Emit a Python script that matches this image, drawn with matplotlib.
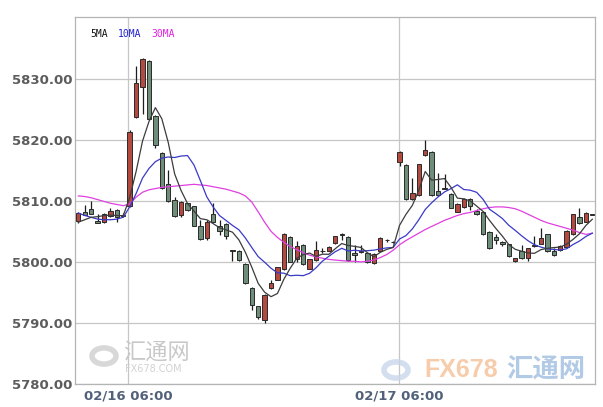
import matplotlib
matplotlib.use('Agg')
import matplotlib.pyplot as plt
from matplotlib.patches import Circle
import numpy as np

# candle data (30-min bars), index 0..80
opens = [5806.7, 5808.1, 5808.6, 5806.7, 5806.5, 5807.5, 5808.5, 5807.5, 5809.2, 5823.8,
         5828.7, 5832.9, 5823.9, 5817.9, 5812.8, 5810.2, 5807.6, 5809.6, 5809.1, 5805.8,
         5803.9, 5807.9, 5805.9, 5806.2, 5801.9, 5801.7, 5799.7, 5795.8, 5792.7, 5790.5,
         5795.7, 5797.1, 5798.8, 5804.1, 5800.5, 5802.8, 5798.9, 5800.3, 5801.7, 5801.8,
         5803.1, 5804.4, 5804.1, 5801.5, 5801.7, 5801.4, 5799.8, 5801.8, 5803.6, 5803.2,
         5816.3, 5815.9, 5810.3, 5810.9, 5817.5, 5818.0, 5811.6, 5812.1, 5811.1, 5808.2,
         5809.0, 5810.3, 5808.3, 5808.2, 5804.9, 5804.0, 5803.3, 5802.9, 5800.2, 5801.8,
         5800.6, 5802.6, 5803.0, 5804.5, 5801.8, 5801.9, 5802.4, 5804.5, 5807.4, 5806.6,
         5807.7]
highs = [5808.2, 5809.3, 5810.0, 5807.9, 5808.0, 5808.8, 5808.7, 5808.0, 5821.6, 5832.1,
         5833.4, 5833.0, 5824.0, 5818.0, 5815.1, 5810.7, 5810.0, 5809.7, 5809.2, 5806.8,
         5806.8, 5809.6, 5806.8, 5806.3, 5802.0, 5802.0, 5799.8, 5795.9, 5792.8, 5794.7,
         5797.0, 5799.2, 5804.8, 5804.2, 5803.4, 5802.9, 5800.5, 5803.4, 5802.3, 5802.6,
         5804.3, 5804.7, 5804.2, 5802.8, 5802.8, 5801.5, 5801.4, 5804.0, 5803.8, 5803.4,
         5818.1, 5816.0, 5813.7, 5816.1, 5819.9, 5818.1, 5814.6, 5814.4, 5811.2, 5809.6,
         5810.4, 5810.4, 5808.7, 5808.3, 5805.0, 5804.6, 5803.4, 5803.0, 5800.7, 5802.8,
         5802.3, 5804.3, 5805.5, 5804.6, 5802.2, 5802.7, 5805.2, 5807.9, 5808.9, 5808.1,
         5807.8]
lows = [5806.3, 5807.6, 5807.8, 5806.3, 5806.3, 5807.4, 5806.5, 5807.3, 5809.0, 5823.6,
        5824.2, 5823.2, 5818.7, 5812.0, 5809.8, 5807.4, 5807.4, 5808.3, 5805.8, 5803.5,
        5803.5, 5806.5, 5804.4, 5803.8, 5800.2, 5800.2, 5796.4, 5792.1, 5790.7, 5790.0,
        5795.6, 5797.0, 5798.7, 5800.0, 5800.0, 5799.5, 5798.8, 5800.2, 5801.4, 5801.7,
        5803.0, 5803.6, 5800.2, 5800.0, 5801.5, 5799.8, 5799.7, 5801.7, 5803.3, 5803.1,
        5815.7, 5810.2, 5810.2, 5810.8, 5817.4, 5810.8, 5810.8, 5811.9, 5808.8, 5808.1,
        5808.9, 5808.5, 5807.7, 5804.4, 5802.1, 5803.0, 5802.6, 5800.8, 5799.9, 5800.5,
        5800.2, 5802.5, 5802.9, 5801.6, 5800.9, 5801.8, 5802.3, 5804.4, 5806.2, 5806.5,
        5807.6]
closes = [5808.0, 5807.7, 5807.9, 5806.4, 5807.9, 5808.4, 5807.4, 5807.7, 5821.2, 5829.3,
          5833.3, 5823.4, 5819.1, 5812.1, 5809.9, 5807.5, 5809.8, 5808.5, 5805.9, 5803.7,
          5806.6, 5806.6, 5805.1, 5804.2, 5801.8, 5800.3, 5796.5, 5792.9, 5790.9, 5794.6,
          5796.6, 5799.1, 5804.6, 5800.0, 5802.6, 5799.6, 5800.4, 5801.9, 5801.8, 5802.5,
          5804.2, 5804.6, 5800.3, 5801.1, 5801.6, 5799.9, 5801.3, 5803.9, 5803.5, 5803.2,
          5818.0, 5810.3, 5811.3, 5816.0, 5818.4, 5810.9, 5810.9, 5812.0, 5808.9, 5809.5,
          5810.3, 5809.2, 5807.8, 5804.5, 5802.2, 5803.6, 5803.0, 5800.9, 5800.6, 5800.6,
          5802.2, 5802.7, 5803.9, 5801.7, 5801.2, 5802.6, 5805.1, 5807.8, 5806.3, 5808.0,
          5807.7]

# moving averages as drawn on the chart
ma5 = [5806.5, 5806.9, 5807.3, 5807.4, 5807.58, 5807.66, 5807.60, 5807.56, 5810.52, 5814.80,
       5819.78, 5822.98, 5825.26, 5823.44, 5819.56, 5814.40, 5811.68, 5809.56, 5808.32, 5807.08,
       5806.90, 5806.26, 5805.58, 5805.24, 5804.86, 5803.60, 5801.58, 5799.14, 5796.48, 5795.04,
       5794.30, 5794.82, 5797.16, 5798.98, 5800.58, 5801.18, 5801.44, 5800.90, 5801.26, 5801.24,
       5802.16, 5803.00, 5802.68, 5802.54, 5802.36, 5801.50, 5800.84, 5801.56, 5802.04, 5802.36,
       5805.98, 5807.78, 5809.26, 5811.76, 5814.80, 5813.38, 5813.50, 5813.64, 5812.22, 5810.44,
       5810.32, 5809.98, 5809.14, 5808.26, 5806.80, 5805.46, 5804.22, 5802.84, 5802.06, 5801.74,
       5801.46, 5801.40, 5802.00, 5802.22, 5802.34, 5802.42, 5802.90, 5803.68, 5804.60, 5805.96,
       5806.98]
ma10 = [5808.0, 5807.6, 5807.3, 5807.0, 5806.9, 5806.9, 5807.0, 5807.3, 5809.0, 5811.19,
        5813.72, 5815.29, 5816.41, 5816.98, 5817.18, 5817.09, 5817.33, 5817.41, 5815.88, 5813.32,
        5810.65, 5808.97, 5807.57, 5806.78, 5805.97, 5805.25, 5803.92, 5802.36, 5800.86, 5799.95,
        5798.95, 5798.20, 5798.15, 5797.73, 5797.81, 5797.74, 5798.13, 5799.03, 5800.12, 5800.91,
        5801.67, 5802.22, 5801.79, 5801.90, 5801.80, 5801.83, 5801.92, 5802.12, 5802.29, 5802.36,
        5803.74, 5804.31, 5805.41, 5806.90, 5808.58, 5809.68, 5810.64, 5811.45, 5811.99, 5812.62,
        5811.85, 5811.74, 5811.39, 5810.24, 5808.62, 5807.89, 5807.10, 5805.99, 5805.16, 5804.27,
        5803.46, 5802.81, 5802.42, 5802.14, 5802.04, 5801.94, 5802.15, 5802.84, 5803.41, 5804.15,
        5804.70]
ma30 = [5810.8, 5810.7, 5810.5, 5810.2, 5809.9, 5809.6, 5809.4, 5809.2, 5809.5, 5810.6,
        5811.4, 5811.8, 5812.0, 5812.2, 5812.3, 5812.4, 5812.5, 5812.6, 5812.7, 5812.6,
        5812.5, 5812.3, 5812.1, 5811.9, 5811.6, 5811.3, 5810.8, 5809.8, 5808.2, 5806.5,
        5805.0, 5804.0, 5803.2, 5802.5, 5802.0, 5801.5, 5801.1, 5800.8, 5800.6, 5800.4,
        5800.3, 5800.2, 5800.1, 5800.1, 5800.0, 5800.1, 5800.3, 5800.7, 5801.2, 5801.9,
        5802.8, 5803.5, 5804.1, 5804.7, 5805.3, 5805.8, 5806.3, 5806.8, 5807.2, 5807.6,
        5807.9, 5808.1, 5808.4, 5808.7, 5808.9, 5809.0, 5809.0, 5808.9, 5808.7, 5808.3,
        5807.8, 5807.3, 5806.8, 5806.4, 5806.1, 5805.8, 5805.5, 5805.2, 5804.8, 5804.5,
        5804.7]

y_ticks = [5780, 5790, 5800, 5810, 5820, 5830]
x_tick_pos = [7.8, 49.9]
x_tick_labels = ['02/16 06:00', '02/17 06:00']
legend_names = ['5MA', '10MA', '30MA']

UP = '#b4493f'
DOWN = '#6f8e79'

fig = plt.figure(figsize=(6.03, 4.07), dpi=100)
ax = fig.add_axes([75 / 603, 23 / 407, 520 / 603, 367 / 407])

x = np.arange(len(closes))
o = np.array(opens)
c = np.array(closes)
body_lo = np.minimum(o, c)
body_h = np.maximum(np.abs(c - o), 0.12)
cols = [UP if cc > oo else DOWN for oo, cc in zip(o, c)]

ax.vlines(x, lows, highs, color='#1e1e1e', linewidth=0.9, zorder=2)
ax.bar(x, body_h, bottom=body_lo, width=0.68, color=cols,
       edgecolor='#2a2a2a', linewidth=0.7, zorder=3)

ax.plot(x, ma30, color='#e040e0', linewidth=0.9, zorder=4)
ax.plot(x, ma10, color='#3a3ac8', linewidth=0.9, zorder=4)
ax.plot(x, ma5, color='#3c3c3c', linewidth=0.9, zorder=4)

ax.set_xlim(-0.51, 80.42)
ax.set_ylim(5780, 5840.1)
ax.set_yticks(y_ticks)
ax.set_yticklabels(['%.2f' % v for v in y_ticks])
ax.set_xticks(x_tick_pos)
ax.set_xticklabels(x_tick_labels)
ax.grid(True, color='#c6c6c6', linewidth=0.9, zorder=0)
ax.set_axisbelow(True)
for sp in ax.spines.values():
    sp.set_color('#b4b4b4')
    sp.set_linewidth(0.9)
ax.tick_params(length=0, pad=2)
for lab in ax.get_yticklabels():
    lab.set_fontsize(9.5)
    lab.set_fontweight('bold')
    lab.set_color('#5c5c5c')
for lab in ax.get_xticklabels():
    lab.set_fontsize(9.5)
    lab.set_fontweight('bold')
    lab.set_color('#52617a')
ax.tick_params(axis='x', pad=4)

# legend text in the top-left corner
leg_cols = ['#111111', '#2020d0', '#e020e0']
leg_x = [90, 118, 151]
for name, col, px in zip(legend_names, leg_cols, leg_x):
    fig.text(px / 603, 1 - 34 / 407, name, color=col, fontsize=7,
             family='DejaVu Sans Mono', va='center', ha='left')

# watermarks
cjk = ['Noto Sans CJK SC', 'DejaVu Sans']
fig.text(123 / 603, 1 - 352 / 407, '汇通网', family=cjk, fontsize=16,
         color='#c8c8c8', va='center', ha='left')
fig.text(125 / 603, 1 - 369 / 407, 'FX678.COM', fontsize=7,
         color='#d2d2d2', va='center', ha='left')
fig.text(424 / 603, 1 - 370 / 407, 'FX678', fontsize=18, fontweight='bold',
         family='Liberation Sans', color='#f6c49c', va='center', ha='left', alpha=0.85)
fig.text(506 / 603, 1 - 370 / 407, '汇通网', family=cjk, fontsize=19, fontweight='bold',
         color='#9fbde0', va='center', ha='left', alpha=0.8)
for cx, cy, col in [(104, 356, '#cfcfcf'), (396, 370, '#c9d6ea')]:
    ring = Circle((cx / 603, 1 - cy / 407), 12 / 603, transform=fig.transFigure,
                  fill=False, edgecolor=col, linewidth=4, alpha=0.8)
    fig.patches.append(ring)

fig.savefig('out.png', dpi=100)
